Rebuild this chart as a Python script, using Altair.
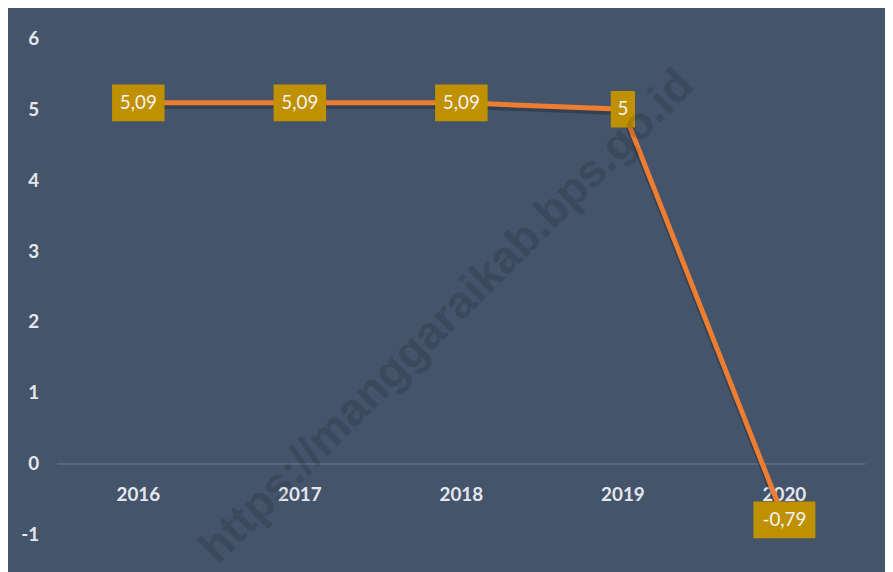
import altair as alt
import pandas as pd

years = ["2016", "2017", "2018", "2019", "2020"]
values = [5.09, 5.09, 5.09, 5.0, -0.79]
labels = ["5,09", "5,09", "5,09", "5", "-0,79"]
y_ticks = [-1, 0, 1, 2, 3, 4, 5, 6]
watermark = "https://manggaraikab.bps.go.id"

df = pd.DataFrame({"year": years, "value": values, "label": labels})

BG = "#44546A"
FONT = "Lato"

x_enc = alt.X("year:N", sort=years, axis=None,
              scale=alt.Scale(paddingInner=0, paddingOuter=0))
y_enc = alt.Y("value:Q",
              scale=alt.Scale(domain=[-1.489, 6.391], nice=False, zero=False),
              axis=alt.Axis(values=y_ticks, labelExpr="'' + datum.value",
                            grid=False, domain=False, ticks=False,
                            labelPadding=19, labelFontSize=19, labelFont=FONT,
                            labelFontWeight="bold", labelColor="#E4E8EE", title=None))

base = alt.Chart(df).encode(x=x_enc, y=y_enc)

zero_rule = alt.Chart(df).mark_rule(color="#5A697E", strokeWidth=1.5).encode(
    y=alt.datum(0)
)

year_text = base.mark_text(font=FONT, fontWeight="bold", fontSize=19,
                           color="#E4E8EE", dy=31).encode(
    y=alt.datum(0), text="year:N"
)

shadow = base.mark_line(color="#1E2734", strokeWidth=6, opacity=0.45, yOffset=3)
line = base.mark_line(color="#ED7D31", strokeWidth=5)

boxes = base.transform_calculate(
    w="(9.5*length(datum.label)+15)/64"
).transform_calculate(
    box="'M' + (-datum.w) + ',-0.578L' + datum.w + ',-0.578L' + datum.w + ',0.578L' + (-datum.w) + ',0.578Z'"
).mark_point(filled=True, size=4096, opacity=1, color="#BF9000", strokeWidth=0).encode(
    shape=alt.Shape("box:N", scale=None)
)

label_text = base.mark_text(font=FONT, fontSize=19, color="#F4F4F4").encode(
    text="label:N"
)

wm = alt.Chart(pd.DataFrame({"t": [watermark]})).mark_text(
    font="Liberation Sans", fontWeight="bold", fontSize=46, angle=315,
    color="black", opacity=0.12
).encode(x=alt.value(393), y=alt.value(309), text="t:N")

chart = alt.layer(zero_rule, year_text, shadow, line, boxes, label_text, wm).properties(
    width=815, height=564,
    background=BG,
    padding={"left": 50, "top": 0, "right": 20, "bottom": 0},
    autosize=alt.AutoSizeParams(type="none"),
).configure_view(stroke=None, fill=BG)

chart.save("out.html", embed_options={"renderer": "svg", "actions": False})
